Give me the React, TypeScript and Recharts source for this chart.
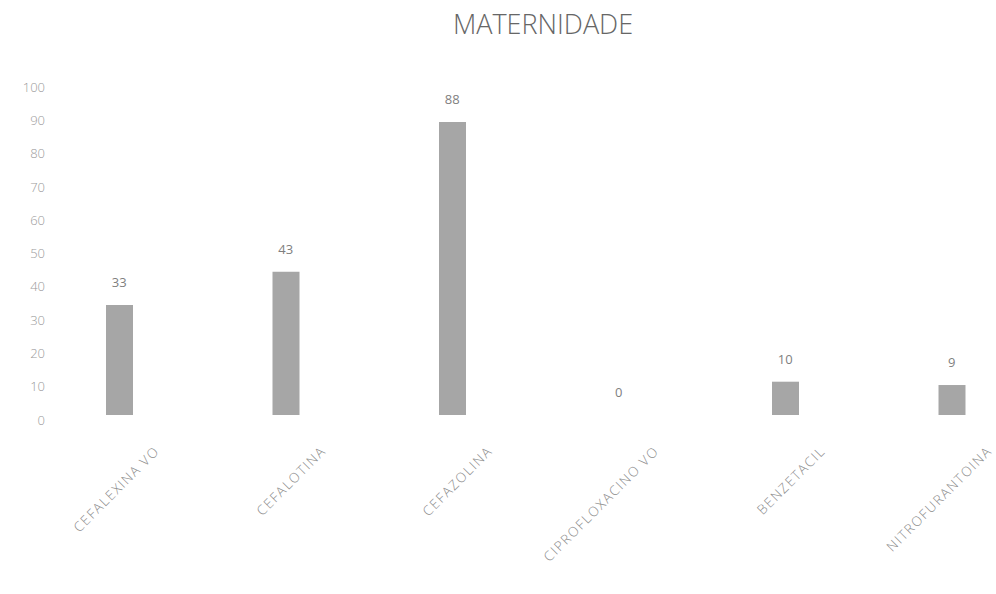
import React from "react";
import { ComposedChart, Bar, Line, XAxis, YAxis, LabelList } from "recharts";

const categories = [
  "CEFALEXINA VO",
  "CEFALOTINA",
  "CEFAZOLINA",
  "CIPROFLOXACINO VO",
  "BENZETACIL",
  "NITROFURANTOINA",
];
const values = [33, 43, 88, 0, 10, 9];
const yTicks = [0, 10, 20, 30, 40, 50, 60, 70, 80, 90, 100];

const data = categories.map((name, i) => ({ name, value: values[i] }));

const FONT = "'Open Sans', 'Liberation Sans', sans-serif";

const XTick = (props: any) => {
  const { x, y, payload } = props;
  const tx = x + 41;
  const ty = y + 29;
  return (
    <text
      x={tx}
      y={ty}
      textAnchor="end"
      fontSize={13.5}
      letterSpacing={1.5}
      fill="#8c8c8c"
      fontFamily={FONT}
      fontWeight={300}
      transform={`rotate(-45 ${tx} ${ty})`}
    >
      {payload.value}
    </text>
  );
};

const YTick = (props: any) => {
  const { x, y, payload } = props;
  return (
    <text
      x={x + 9}
      y={y + 5}
      dy="0.355em"
      textAnchor="end"
      fontSize={13}
      fill="#9a9a9a"
      fontFamily={FONT}
      fontWeight={300}
    >
      {payload.value}
    </text>
  );
};

const ValueLabel = (props: any) => {
  const { x, y, value } = props;
  return (
    <text
      x={Number(x)}
      y={Number(y) - 18}
      textAnchor="middle"
      fontSize={13}
      fill="#7f7f7f"
      fontFamily={FONT}
    >
      {value}
    </text>
  );
};

export default function App() {
  return (
    <div
      style={{
        position: "fixed",
        left: 0,
        top: 0,
        width: 996,
        height: 594,
        overflow: "hidden",
        background: "#ffffff",
      }}
    >
      <div
        style={{
          position: "absolute",
          left: 0,
          top: 5,
          width: 1086,
          textAlign: "center",
          fontFamily: FONT,
          fontSize: 27,
          fontWeight: 300,
          color: "#666666",
          lineHeight: "38px",
        }}
      >
        MATERNIDADE
      </div>
      <ComposedChart
        width={1040}
        height={594}
        data={data}
        margin={{ top: 82, right: 5, bottom: 0, left: 0 }}
        barSize={27}
      >
        <XAxis
          dataKey="name"
          axisLine={false}
          tickLine={false}
          height={179}
          interval={0}
          tick={<XTick />}
        />
        <YAxis
          domain={[0, 100]}
          ticks={yTicks}
          width={36}
          axisLine={false}
          tickLine={false}
          tickSize={0}
          tickMargin={0}
          tick={<YTick />}
          interval={0}
        />
        <Bar dataKey="value" fill="#a6a6a6" isAnimationActive={false} />
        <Line
          dataKey="value"
          stroke="none"
          dot={false}
          activeDot={false}
          isAnimationActive={false}
        >
          <LabelList dataKey="value" content={<ValueLabel />} />
        </Line>
      </ComposedChart>
    </div>
  );
}
